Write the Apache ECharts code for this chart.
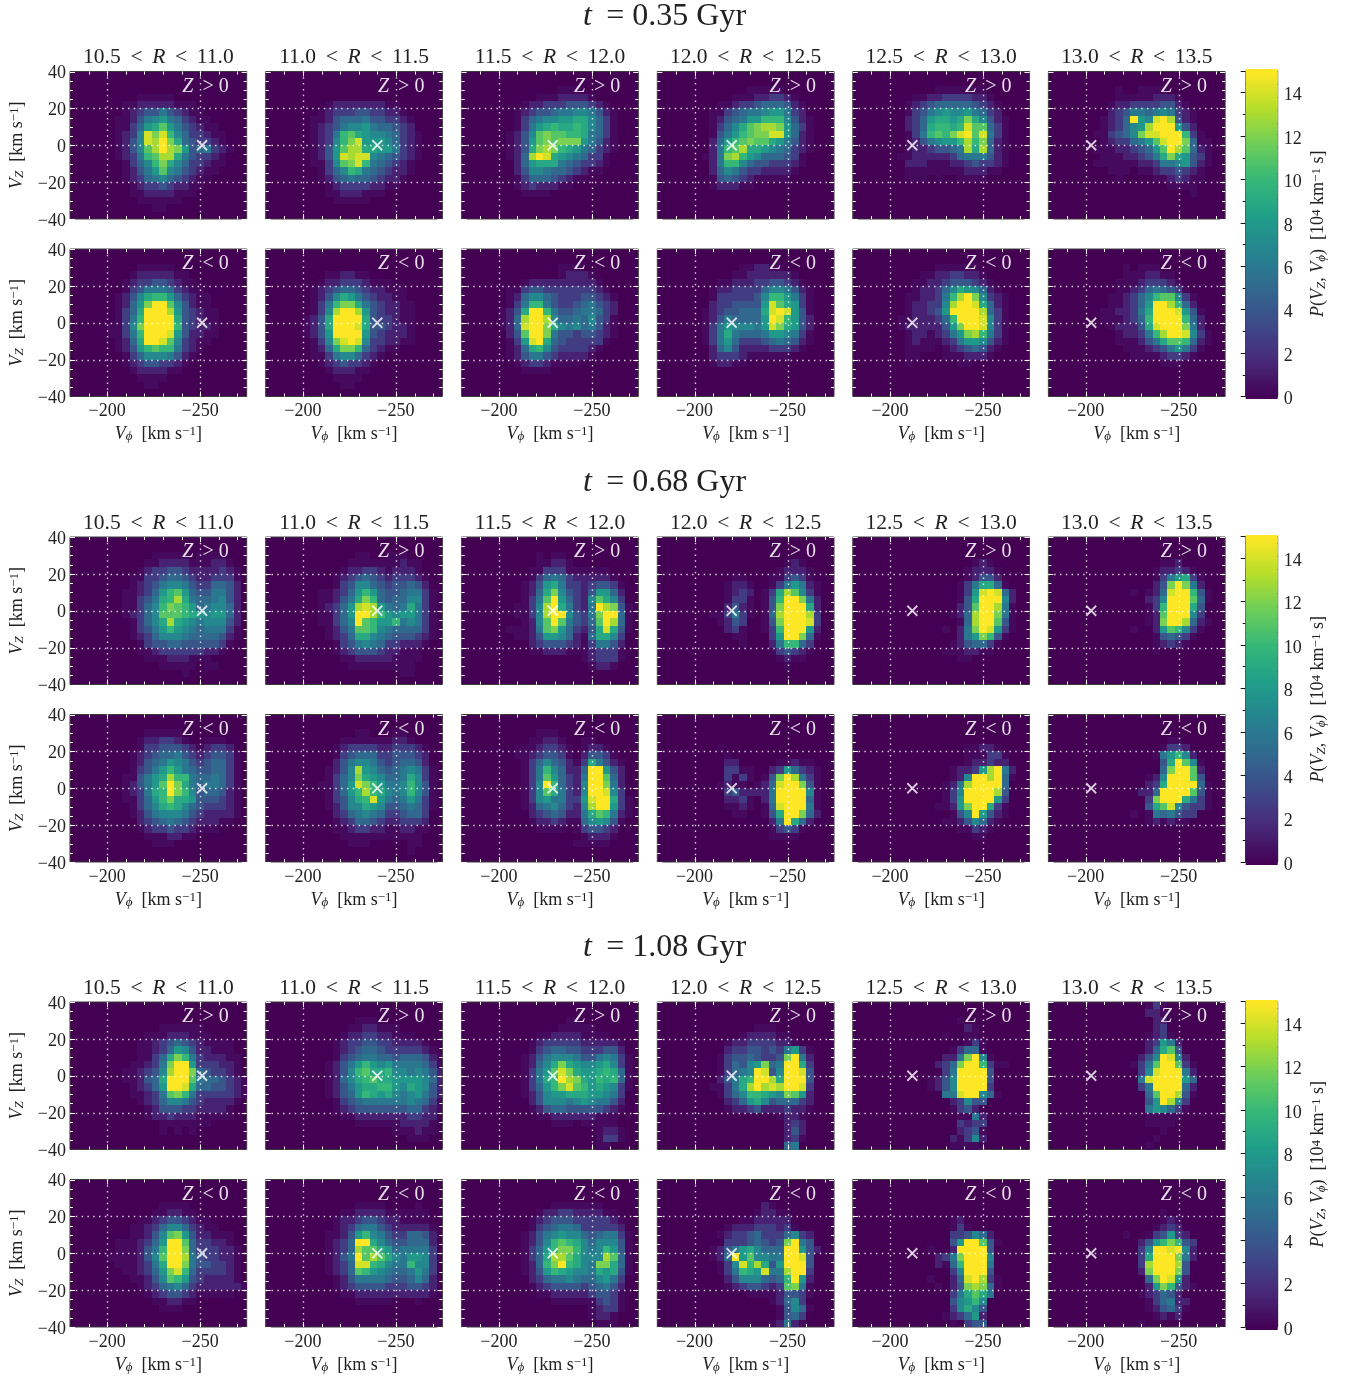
<!DOCTYPE html>
<html><head><meta charset="utf-8"><style>html,body{margin:0;padding:0;background:#fff}#c{width:1349px;height:1381px}</style>
<script src="https://cdn.jsdelivr.net/npm/echarts@6/dist/echarts.min.js"></script></head><body><div id="c"></div>
<script>
const timeLabels=['0.35','0.68','1.08'];
const radiusLabels=['10.5 < R < 11.0','11.0 < R < 11.5','11.5 < R < 12.0','12.0 < R < 12.5','12.5 < R < 13.0','13.0 < R < 13.5'];
const markerVphi=[-251,-240,-229,-220,-212,-203];
const xMajor=[-200,-250];
const xMinor=[-190,-210,-220,-230,-240,-260,-270];
const yMajor=[-40,-20,0,20,40];
const yMinor=[-35,-30,-25,-15,-10,-5,5,10,15,25,30,35];
// Value read for each estimated density digit (the faintest digits are well under their nominal level).
const digitValue=[0,0.4,1.4,2.7,4,5,6,7,8,9,10,11,12,13,14,15];
// Density rows, top to bottom (each row 4 km/s in VZ, from +40); each char is one 4 km/s VPhi bin from -200 outward, hex digit (f = 15 or above).
const T035_R105_P=['','','','000011111','001122222111','0012344643211','01124678653211','0113589b8643211','01237ecea7533211','01247edfc9543321','01247bdfdc8456321','01236abdd9643321','001357ac97533211','0012468b7643211','00123567543211','0001233432211','000112222111','0000111111','00000011'];
const T035_R105_N=['','','000011111','00012222211','001233443211','0013466653211','012479aa853211','01258cffb74211','01359fffd843211','0136affff943211','1137cffffa43221','1136afffe842211','01259ffeb73211','01248abaa6321','001357776421','00123443321','0001222211','00001111','0000011'];
const T035_R110_P=['','','','','0001222222211','00123334433221','011245556443321','012346778655432','01236ab987765321','01237ace88875321','01248bdd99886321','01248edee7654321','01137bcea654321','001357a96543221','00124565543221','0001233332211','00011222111','000011111'];
const T035_R110_N=['','','','0001122110','001223332111','01234554322111','01247986432211','0136acc96432211','0137dffd8432211','1249ffff9433211','1249fffe9443221','1248ffff8432221','0137cefe7332211','01259cca53211','01136775321','0012343321','000122211','00001111','0000011'];
const T035_R115_P=['','','00000000111','0000011122221','000122333444321','0012344566776421','0013567788997531','0013689a99a97531','01247bcbbaa96531','01248bcbccc86421','01249cdca9865321','0125dfe98765331','002589996543321','00247765543211','001355543211','0012322211','0001111'];
const T035_R115_N=['','','00000000111','0000000012221','00012222222221','011344333333321','0125775433344321','0136aa6433456432','1249ffa644566532','125dffd755657431','125effc976756421','024bffc644344321','0138ef954333331','01259a74333321','0124664322221','00123321111','0001111'];
const T035_R120_P=['','','000000011111','00000111223321','000112334555421','001134566788632','001245688aaa7421','0013579bcddc8531','001468abccee8521','00258abcbb986421','0026abd998765321','0126cda87555431','0026aa754433321','00257643322221','0014543211111','00122211'];
const T035_R120_N=['','','000000112211','00000112222221','000112223344321','0012233335776421','0013333347aa8631','0023344448eb9831','0123445559efe841','0124655558fea842','0136877768ec9842','0136965556887631','0136853334565421','002574222233321','0023332111111','0012211'];
const T035_R125_P=['','','0000001111111','00011223333221','001234555554321','001346787786532','0023589989c97421','002359aa9aebb531','00136abacefbe631','001246788adac521','0012234456d9d521','0112222235666421','0022211122343321','001111111122211','0011101001111'];
const T035_R125_N=['','','000000111111','0000112233221','00011223444321','000122357987521','00112236adfc7321','00122337dffe9521','00122348ffffd531','01122235afffe731','012222248cffe731','0012212368cda631','0012111236887421','001111012345421','00110001112221','00100000011'];
const T035_R130_P=['','','000010011110','00001111122210','00012233334421','000234665676321','001235f87efd421','00123578dfff842','0113457ceefffa31','001233568beffc511','0111223458bfdb521','00111223469c98431','01111112236678421','0001110112334321','0000100001123211','000000000001111','000000000000001'];
const T035_R130_N=['','','0000010111','000001112211','0000111233321','00001123565431','000112357abb731','000112358ffda52','001122369fffe841','00111235affffa52','000122249efffc62','000012236adffe731','00001112469bba521','0000011123468631','000000111123321','0000000000111'];
const T068_R105_P=['','','0000001111101111','00000112222111221','000012334432222321','000113345543223331','000123467764335542','00112358ab85446642','00113469ad96556742','0011357acba8567752','0012357bbba9878852','00013579d987677742','00013468a876566631','000123577765555421','00001344554444431','0000112333333221','00000111222111','000000011111011','00000000001'];
const T068_R105_N=['','','00000111110','0000122332100111','00001334443212332','000123455643234431','000124568764345531','00013468a865445531','00114689daa6556531','0012468bfc96566531','0012369afca7455421','0011358ac998444321','00013579a975433321','000124677764322221','00002345654322211','000012334332111','000001112211','000000111'];
const T068_R110_P=['','','00000001100111','0000001111111211','0000012233212221','00001234543233321','00001347754344542','00112358a854456631','00112469ca54557731','0012358ded86569631','0011358ffda8788631','0011357fba88a67631','0001246bba76555531','000123599765444321','00001346765332221','0000123444322111','0000011222221111','000000111111111','000000000000011'];
const T068_R110_N=['','','00000001100011','000001111111221','00001233332233321','00001345553344432','00002467764345542','0001247d8754567631','0001357c9875569731','0011358eca8667a741','0001358ada9767a741','00013479ae86568631','000124779874456531','00002356765334553','00001235543223332','00001123322112211','0000011111111111','0000001110000011','000000000000001'];
const T068_R115_P=['','','000001011','000001122100','000011333111111','0000135653222221','00012489633234431','0001259c743248852','000136bf85327b973','001137df96326fdc41','001137dff7436cff51','000127bfb6435bfd51','011126bc853249e941','00112488752159973','00002344432136642','00001122211123331','00000000000123331','0000000000001221'];
const T068_R115_N=['','','00000111','0000112210011','001112332101221','0011234431024431','00013575421396421','000136a75225ff842','000136b85326ffb52','000137fa5327ffc62','000137b96327ffe73','000137866338eff931','000125675327dff831','0000234542269ba621','00001223211578741','0000011110134432','0000000000012221','000000000011111'];
const T068_R120_P=['','','','000000000000121','0000000000012221','0000011000113431','00001221001368621','000012320139db731','00001331014affc62','00002421014cfff92','00113631015dfffd3','00012430014cfffe3','00002310013afff82','000001100038ffc51','000000100026aa53','0000000000134321','000000000001211','0000000000001'];
const T068_R120_N=['','','','','0001','00001','0000220000011211','00003311002385321','00003131014cfd631','00012110125effc41','00003422226ffff71','00002231026ffff51','00001121015efff61','000001100149ffc52','000000000026f952','000000000013431','00000000001111'];
const T068_R125_P=['','','','00000000000121','000000000012221','000000000012442','0000000001369951','000000000138efe52','000000000149fff72','00000000024bffd61','00000000125dffc61','00000000015dffb41','00000001026cfe831','000000000268ca41','000000001245531','00000001112211','00000000011'];
const T068_R125_N=['','','','','000000000011221','0000000000111331','0000000000122322','0000000012238df62','00000000127ffdf51','0000000126dffff5','0000000137ffffd4','0000000138ffff83','0000001128cff931','00000000147f8421','000000011247521','00000000011321','0000000000011'];
const T068_R130_P=['','','','0000000000112','000000000122321','0000000001368931','00000000024cfc62','00000010125effa41','00000000237fffb51','0000000013afff94','0000000012bfff73','0000000012cffd521','00000010028ba731','000000000145431','00000000012321','0000000001'];
const T068_R130_N=['','','','0000000000011','00000000001332','000000000168a72','000000000049fb71','00000000005cffb2','00000000127fffb4','00000000239ffff51','0000000225ffffb41','000000003cfff9631','0000000049be74331','000000101656433','00000000121211'];
const T108_R105_P=['','','','00000001111110','00000111222111','00001123454321111','00001123587422111','000011359ca6322211','00011236cff8333221','00112347dffc543321','00112459fffb6554321','00012358ffe95544321','00011236bca63333321','000012357764322221','00000124443322221','00000122322211111','00000001111111','000000010101'];
const T108_R105_N=['','','','00000001111','000000112211','00001123443211','000112357753211','00011247bc8422111','01112358ffb533221','0111246affc5333221','1111247bffd6433221','01112369ffc6443321','00112358cea5333321','00011247ba84322221','0000123567532222221','00000123443211111','000000112211','0000000111'];
const T108_R110_P=['','','00000001110','0000001122111','000001223322111','00001233443322221','000012345543333321','0000134566554555421','00012468a8786666531','0001247ab99a7767642','00012579ab998888752','0001246899aa8798742','00012458a9897678642','0000134566666676531','0000123444444455321','000001122222223322','000000011111122221','000000000000111211','00000000000000111'];
const T108_R110_N=['','','','0000000111100001','00000112222111111','00001223443221111','000012356643222221','00011248a764335542','0001235ff975445552','0001235dbb98566663','0001246fbdb9768873','0001235eea9766a773','0001235ba876556863','000012466665445752','000012344443334432','000001122222222221','0000000111110001'];
const T108_R115_P=['','','00000000011','0000000011111','000001122221111','00001233333222221','00001345544333442','000124677764467631','00012579c987789731','0001368bec9889a951','0001369afdc98a9a51','0001358aceba898731','00012478899988763','00002477767876642','00001245544444321','0000011222222111','0000000111011111','00000000000001221','00000000000001331','000000000000011'];
const T108_R115_N=['','','','00000001111111','0000012233222211','00001234443333321','00001345665333332','000124678775456631','0001247aba97577741','0001358acca767a841','0001359ddb9777db51','000125acfa976cc951','0001248a9877698941','00002356676557863','00001234444345642','00000112222234431','00000001111113431','00000000000012331','0000000000001221','0000000000000111'];
const T108_R120_P=['','','','00000000111','0000001222211','00001223333221','0000233443436831','000134454334cf62','000135478c56ff93','00013567fe47ffe4','0002469affd9fff4','0011369dfdedffe3','0001357aa987cb82','0000235897455532','0000122342223221','000000000001221','000000000000232','000000000000242','000000000000231','00000000000056'];
const T108_R120_N=['','','','00000000021','0000000012211','0000001122222','00001222333231','0001233453335732','000033345434cf64','001246897555ff842','00125f8b7766ffe4','000137ead948fff4','000136a98e66dff3','000024777545af82','000012344323bc61','0000000111124431','000000000012573','0000000000014751','000000000001453','000000000012621'];
const T108_R125_P=['','','0000000001','000000000021','000000010011','0000000000131','0000000013551','0000000226cf71','000000235cffa311','000000036ffff4','000001247ffff4','000001247ffff3','000000066eff751','0000000023744','000000001342','0000000001162','0000000003233','0000000002341','0000000021372','000000001111'];
const T108_R125_N=['','','','','','0000000012','00000000131','00000000334752','0000000048ffb41','000001002ffff4','000000236cfff7','000000215afff6','0000000037fff4','0000010025efd31','0000001024cdc51','00000000369b96','00000000478a7','0000000037974','0000000123582','0000000010344'];
const T108_R130_P=['00000000131','00000000221','00000000022','00000000023','000000001231','0000000023862','00000000259b4','0000000247fe72','000000136bffb31','000000037efff62','00000006effff85','000000036ffff52','000000005bffd41','0000000048fd73','00000000687531','0000000011111','000000001111','00000000001','0000000001','000000001'];
const T108_R130_N=['','','','','00000000001','0000000000121','0000000001232','00000100134832','0000000248aca43','000000037ffef72','000000039fffc62','00000003dfffd4','00000002cfffc4','000000005cfe82','0000000028ca421','0000000123542','00000000135622','00000000124531','0000000001212','00000001'];
const panelRows=[
 [[T035_R105_P,T035_R110_P,T035_R115_P,T035_R120_P,T035_R125_P,T035_R130_P],[T035_R105_N,T035_R110_N,T035_R115_N,T035_R120_N,T035_R125_N,T035_R130_N]],
 [[T068_R105_P,T068_R110_P,T068_R115_P,T068_R120_P,T068_R125_P,T068_R130_P],[T068_R105_N,T068_R110_N,T068_R115_N,T068_R120_N,T068_R125_N,T068_R130_N]],
 [[T108_R105_P,T108_R110_P,T108_R115_P,T108_R120_P,T108_R125_P,T108_R130_P],[T108_R105_N,T108_R110_N,T108_R115_N,T108_R120_N,T108_R125_N,T108_R130_N]]];

const FONT='"Liberation Serif"';
const VIR=['#440154','#482878','#3e4a89','#31688e','#26838f','#1f9e89','#35b779','#6cce5a','#b6de2b','#fde725'].map(h=>[1,3,5].map(k=>parseInt(h.substr(k,2),16)));
function viridis(v){const t=Math.max(0,Math.min(1,v/15))*(VIR.length-1),a=Math.min(Math.floor(t),VIR.length-2),f=t-a;
 return 'rgb('+VIR[a].map((c,k)=>Math.round(c+(VIR[a+1][k]-c)*f)).join(',')+')';}
function cells(rows){const out=[];rows.forEach((r,j)=>{for(let i=0;i<r.length;i++){const v=parseInt(r[i],16);if(v>0)out.push([-200-4*i,40-4*j,digitValue[v]]);}});return out;}

const lefts=[70,265.7,461.6,657.3,852.8,1048.4],W=176.7,H=147.5;
const tops=[[71.5,249],[537,714.5],[1002,1179.5]];
const titleTops=[1,466.5,931.5];
const cbLeft=1245.7,cbW=32;
const TS='\u2009';

function heatItem(p,api){const a=api.coord([api.value(0),api.value(1)]),b=api.coord([api.value(0)-4,api.value(1)-4]);
 const cs=p.coordSys,x0=Math.round(a[0]),y0=Math.round(a[1]),x1=Math.min(Math.round(b[0]),Math.round(cs.x+cs.width)),y1=Math.min(Math.round(b[1]),Math.round(cs.y+cs.height));
 return {type:'rect',shape:{x:x0,y:y0,width:x1-x0,height:y1-y0},style:{fill:viridis(api.value(2))}};}
function frameItem(p,api){const cs=p.coordSys,kind=api.value(2),maj=api.value(3),len=maj?5:3,ch=[];
 const ln=(x1,y1,x2,y2,dash)=>ch.push({type:'line',shape:{x1,y1,x2,y2},style:dash?{stroke:'rgba(255,255,255,0.8)',lineWidth:1.4,lineDash:[1.5,4.3]}:{stroke:'#fff',lineWidth:1}});
 if(kind===0){const x=Math.round(api.coord([api.value(0),0])[0])+.5;
  if(maj)ln(x,cs.y,x,cs.y+cs.height,true);
  ln(x,cs.y,x,cs.y+len);ln(x,cs.y+cs.height,x,cs.y+cs.height-len);
 }else{const v=api.value(1),y=Math.round(api.coord([-200,v])[1])+.5;
  if(maj&&Math.abs(v)<40)ln(cs.x,y,cs.x+cs.width,y,true);
  ln(cs.x,y,cs.x+len,y);ln(cs.x+cs.width,y,cs.x+cs.width-len,y);}
 return {type:'group',children:ch};}
function barItem(p,api){const a=api.coord([0,api.value(0)+.05]),b=api.coord([1,api.value(0)-.05]);
 return {type:'rect',shape:{x:a[0],y:Math.floor(a[1]),width:b[0]-a[0],height:Math.ceil(b[1])-Math.floor(a[1])+1},style:{fill:viridis(api.value(0))}};}

const mainRich={i:{fontFamily:FONT,fontStyle:'italic',fontSize:18,color:'#222'},
 s:{fontFamily:FONT,fontStyle:'italic',fontSize:13,color:'#222',verticalAlign:'bottom'},
 n:{fontFamily:FONT,fontSize:18,color:'#222'},
 u:{fontFamily:FONT,fontSize:13,color:'#222',verticalAlign:'top'}};
const xName='{i|V}{s|ϕ}{n|  [km s}{u|−1}{n|]}';
const yName='{i|V}{s|Z}{n|  [km s}{u|−1}{n|]}';
const cbName='{i|P}{n|(}{i|V}{s|Z}{n|, }{i|V}{s|ϕ}{n|)  [10}{u|4}{n| km}{u|−1}{n| s]}';

const grids=[],xAxes=[],yAxes=[],series=[],titles=[];
const frameData=[...xMajor.map(v=>[v,0,0,1]),...xMinor.map(v=>[v,0,0,0]),...yMajor.map(v=>[-200,v,1,1]),...yMinor.map(v=>[-200,v,1,0])];
panelRows.forEach((block,b)=>{
 titles.push({text:'{i|t}'+TS+' = '+timeLabels[b]+' Gyr',left:664.5,top:titleTops[b],padding:0,textAlign:'center',
  textStyle:{fontFamily:FONT,fontSize:32,color:'#222',fontWeight:'normal',rich:{i:{fontFamily:FONT,fontStyle:'italic',fontSize:32,color:'#222'}}}});
 radiusLabels.forEach((lab,c)=>{
  titles.push({text:lab.replace('R','{i|R}').replace(/ /g,' '+TS),left:lefts[c]+W/2,top:tops[b][0]-25,padding:0,textAlign:'center',
   textStyle:{fontFamily:FONT,fontSize:21.5,color:'#222',fontWeight:'normal',rich:{i:{fontFamily:FONT,fontStyle:'italic',fontSize:21.5,color:'#222'}}}});
 });
 block.forEach((row,r)=>{
  row.forEach((rows,c)=>{
   const idx=grids.length,top=tops[b][r];
   grids.push({left:lefts[c],top:top,width:W,height:H,show:true,backgroundColor:'#440154',borderColor:'#3a3a3a',borderWidth:1,z:1});
   xAxes.push({gridIndex:idx,type:'value',inverse:true,min:-275,max:-180,position:'bottom',
    axisLine:{show:false},axisTick:{show:false},splitLine:{show:false},
    axisLabel:{show:r===1,customValues:xMajor,margin:6,fontFamily:FONT,fontSize:18,color:'#222',formatter:v=>String(v).replace('-','−')},
    name:r===1?xName:'',nameLocation:'middle',nameGap:29,nameTextStyle:{rich:mainRich}});
   yAxes.push({gridIndex:idx,type:'value',min:-40,max:40,interval:20,
    axisLine:{show:false},axisTick:{show:false},splitLine:{show:false},
    axisLabel:{show:c===0,margin:4,verticalAlign:'top',lineHeight:18,padding:[-7,0,0,0],fontFamily:FONT,fontSize:18,color:'#222',formatter:v=>String(v).replace('-','−')},
    name:c===0?yName:'',nameLocation:'middle',nameGap:44,nameRotate:90,nameTextStyle:{rich:mainRich}});
   series.push({type:'custom',xAxisIndex:idx,yAxisIndex:idx,data:cells(rows),renderItem:heatItem,silent:true,animation:false,z:2,encode:{x:0,y:1}});
   series.push({type:'custom',xAxisIndex:idx,yAxisIndex:idx,data:frameData,renderItem:frameItem,silent:true,animation:false,z:3,encode:{x:0,y:1}});
   series.push({type:'scatter',xAxisIndex:idx,yAxisIndex:idx,data:[[markerVphi[c],0]],symbol:'path://M0 0L10 10M10 0L0 10',symbolSize:10,silent:true,animation:false,z:4,
    itemStyle:{color:'none',borderColor:'#fff',borderWidth:1.8}});
   titles.push({text:'{i|Z}'+TS+' '+(r===0?'>':'<')+' 0',left:lefts[c]+135.5,top:top+5,padding:0,textAlign:'center',
    textStyle:{fontFamily:FONT,fontSize:20,color:'#e6dfe9',fontWeight:'normal',rich:{i:{fontFamily:FONT,fontStyle:'italic',fontSize:20,color:'#e6dfe9'}}}});
  });
 });
 const idx=grids.length,cbTop=tops[b][0]-.5,cbH=tops[b][1]+H-cbTop;
 grids.push({left:cbLeft,top:cbTop,width:cbW,height:cbH,show:true,backgroundColor:'#440154',borderColor:'#222',borderWidth:1,z:1});
 xAxes.push({gridIndex:idx,type:'value',min:0,max:1,show:false});
 yAxes.push({gridIndex:idx,type:'value',min:0,max:15,interval:2,position:'right',
  axisLine:{show:false},splitLine:{show:false},
  axisTick:{show:true,inside:true,length:5,lineStyle:{color:'#111'}},
  minorTick:{show:true,splitNumber:2,length:3,lineStyle:{color:'#111'}},
  axisLabel:{margin:6,verticalAlign:'top',lineHeight:18,padding:[-6,0,0,0],fontFamily:FONT,fontSize:18,color:'#222',showMaxLabel:false,formatter:v=>v===15?'':String(v)},
  name:cbName,nameLocation:'middle',nameGap:32,nameRotate:90,nameTextStyle:{rich:mainRich}});
 const levels=[];for(let k=0;k<=150;k++)levels.push([k/10]);
 series.push({type:'custom',xAxisIndex:idx,yAxisIndex:idx,data:levels,renderItem:barItem,silent:true,animation:false,z:2,encode:{y:0}});
});
const chart=echarts.init(document.getElementById('c'),null,{renderer:'canvas',width:1349,height:1381});
chart.setOption({animation:false,backgroundColor:'#fff',title:titles,grid:grids,xAxis:xAxes,yAxis:yAxes,series:series});
</script></body></html>
